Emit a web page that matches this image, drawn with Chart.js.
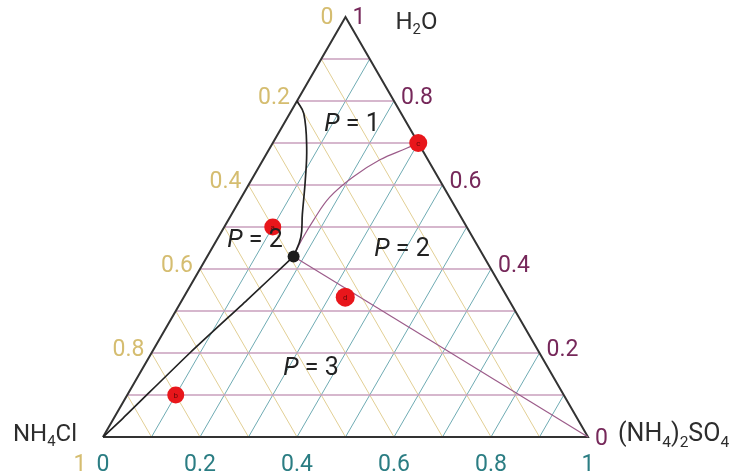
<!DOCTYPE html>
<html>
<head>
<meta charset="utf-8">
<script src="https://cdn.jsdelivr.net/npm/chart.js@4/dist/chart.umd.min.js"></script>
<style>
  html, body { margin: 0; padding: 0; background: #ffffff; }
  #wrap { width: 745px; height: 473px; }
</style>
</head>
<body>
<div id="wrap"><canvas id="ternary" width="745" height="473"></canvas></div>
<script>
// Ternary phase diagram NH4Cl – (NH4)2SO4 – H2O.
// Compositions are mass fractions: water = H2O, sulfate = (NH4)2SO4,
// chloride (NH4Cl) is the remainder 1 - water - sulfate.

const gridSteps = [0.1, 0.2, 0.3, 0.4, 0.5, 0.6, 0.7, 0.8, 0.9];
const tickValues = [0, 0.2, 0.4, 0.6, 0.8, 1];
const tickLabels = ['0', '0.2', '0.4', '0.6', '0.8', '1'];

// NH4Cl saturation curve (liquidus) ending at the eutonic point
const nh4clCurveWater   = [0.80, 0.77, 0.69, 0.61, 0.53, 0.476, 0.43];
const nh4clCurveSulfate = [0.00, 0.029, 0.075, 0.112, 0.146, 0.170, 0.178];

// Tie line from the eutonic point to pure NH4Cl
const nh4clTieWater   = [0.43, 0.326, 0.20, 0.045, 0.0];
const nh4clTieSulfate = [0.178, 0.134, 0.079, 0.019, 0.0];

// (NH4)2SO4 saturation curve from the eutonic point to point c
const sulfCurveWater   = [0.43, 0.469, 0.517, 0.571, 0.619, 0.66, 0.688, 0.70];
const sulfCurveSulfate = [0.178, 0.175, 0.176, 0.182, 0.206, 0.241, 0.283, 0.30];

// Tie line from the eutonic point to pure (NH4)2SO4
const sulfTieWater   = [0.43, 0.0];
const sulfTieSulfate = [0.178, 1.0];

// Eutonic point
const eutonicWater = [0.43];
const eutonicSulfate = [0.178];

// Marked compositions
const markNames   = ['a', 'b', 'c', 'd'];
const markWater   = [0.50, 0.10, 0.70, 0.333];
const markSulfate = [0.10, 0.10, 0.30, 0.333];

// Phase-count labels
const regionTexts   = ['P = 1', 'P = 2', 'P = 2', 'P = 3'];
const regionWater   = [0.743, 0.467, 0.445, 0.162];
const regionSulfate = [0.142, 0.080, 0.394, 0.348];

const H = Math.sqrt(3) / 2;
function toXY(water, sulfate) {
  return { x: sulfate + water / 2, y: water * H };
}
function series(waters, sulfates) {
  return waters.map((w, i) => toXY(w, sulfates[i]));
}

const COL = {
  edge: '#333333',
  gridWater: '#c99fbd',
  gridSulfate: '#6fabb3',
  gridChloride: '#e2cf94',
  labWater: '#76285a',
  labSulfate: '#2b7d83',
  labChloride: '#d5bd70',
  phase: '#222222',
  tie: '#9c5c8a',
  mark: '#e8161b',
  vertex: '#2d2d2d'
};

function lineSet(data, color, width, order, tension) {
  return {
    data, showLine: true, borderColor: color, borderWidth: width,
    pointRadius: 0, pointHoverRadius: 0, fill: false, clip: false,
    tension: tension || 0, order
  };
}

const datasets = [];

// grid lines
gridSteps.forEach(v => {
  datasets.push(lineSet([toXY(v, 0), toXY(v, 1 - v)], COL.gridWater, 1.4, 5));
  datasets.push(lineSet([toXY(0, v), toXY(1 - v, v)], COL.gridSulfate, 1, 6));
  datasets.push(lineSet([toXY(0, 1 - v), toXY(1 - v, 0)], COL.gridChloride, 1, 7));
});

// triangle edges
datasets.push(lineSet([toXY(0, 0), toXY(0, 1), toXY(1, 0), toXY(0, 0)], COL.edge, 2, 4));

// phase boundaries
datasets.push(lineSet(series(sulfTieWater, sulfTieSulfate), COL.tie, 1.2, 3));
datasets.push(lineSet(series(sulfCurveWater, sulfCurveSulfate), COL.tie, 1.2, 3, 0.4));
datasets.push(lineSet(series(nh4clCurveWater, nh4clCurveSulfate), COL.phase, 1.7, 2, 0.4));
datasets.push(lineSet(series(nh4clTieWater, nh4clTieSulfate), COL.phase, 1.7, 2, 0.2));

// eutonic point
datasets.push({
  data: series(eutonicWater, eutonicSulfate), showLine: false,
  pointRadius: 6, pointBackgroundColor: '#1c1c1c', pointBorderColor: '#1c1c1c',
  pointBorderWidth: 0, clip: false, order: 1
});

// marked points
const markSet = {
  data: series(markWater, markSulfate), showLine: false,
  pointRadius: [8.5, 8.5, 9, 9.5], pointBackgroundColor: COL.mark, pointBorderColor: COL.mark,
  pointBorderWidth: 0, clip: false, order: 0
};
datasets.push(markSet);
const markIndex = datasets.length - 1;

function drawRich(ctx, parts, x, y, size, color, align) {
  const sub = size * 0.62;
  let total = 0;
  parts.forEach(p => {
    ctx.font = (p.sub ? sub : size) + 'px Roboto';
    p.w = ctx.measureText(p.t).width;
    total += p.w;
  });
  let cx = align === 'right' ? x - total : align === 'center' ? x - total / 2 : x;
  const base = y + size * 0.36;
  ctx.fillStyle = color;
  ctx.textAlign = 'left';
  ctx.textBaseline = 'alphabetic';
  parts.forEach(p => {
    ctx.font = (p.sub ? sub : size) + 'px Roboto';
    ctx.fillText(p.t, cx, p.sub ? base + size * 0.24 : base);
    cx += p.w;
  });
}

const annotate = {
  id: 'annotate',
  afterDatasetsDraw(chart) {
    const ctx = chart.ctx;
    const xs = chart.scales.x, ys = chart.scales.y;
    const px = (w, s) => { const p = toXY(w, s); return [xs.getPixelForValue(p.x), ys.getPixelForValue(p.y)]; };
    ctx.save();

    // letters inside marked points
    const meta = chart.getDatasetMeta(markIndex);
    ctx.font = '8px Roboto';
    ctx.fillStyle = '#6a0808';
    ctx.textAlign = 'center';
    ctx.textBaseline = 'middle';
    meta.data.forEach((el, i) => ctx.fillText(markNames[i], el.x, el.y + 0.5));

    // tick labels
    ctx.font = '23px Roboto';
    ctx.textBaseline = 'middle';
    tickValues.forEach((v, i) => {
      // H2O along the right edge
      let [x, y] = px(v, 1 - v);
      ctx.fillStyle = COL.labWater;
      ctx.textAlign = 'left';
      const dy = v === 1 ? 1 : v === 0 ? 2 : -3;
      ctx.fillText(tickLabels[i], x + 7, y + dy);

      // (NH4)2SO4 along the bottom edge
      [x, y] = px(0, v);
      ctx.fillStyle = COL.labSulfate;
      ctx.textAlign = 'center';
      ctx.fillText(tickLabels[i], x, y + 28);

      // NH4Cl along the left edge
      [x, y] = px(1 - v, 0);
      ctx.fillStyle = COL.labChloride;
      if (v === 1) {
        ctx.textAlign = 'center';
        ctx.fillText(tickLabels[i], x - 23, y + 28);
      } else {
        ctx.textAlign = 'right';
        ctx.fillText(tickLabels[i], x - (v === 0 ? 12 : 7), y + (v === 0 ? 1 : -3));
      }
    });

    // region labels
    regionTexts.forEach((t, i) => {
      const [x, y] = px(regionWater[i], regionSulfate[i]);
      const pLetter = t.slice(0, 1), rest = t.slice(1);
      ctx.textBaseline = 'middle';
      ctx.textAlign = 'left';
      ctx.font = 'italic 25px Roboto';
      const w1 = ctx.measureText(pLetter).width;
      ctx.font = '25px Roboto';
      const w2 = ctx.measureText(rest).width;
      const x0 = x - (w1 + w2) / 2;
      ctx.fillStyle = '#222222';
      ctx.font = 'italic 25px Roboto';
      ctx.fillText(pLetter, x0, y);
      ctx.font = '25px Roboto';
      ctx.fillText(rest, x0 + w1, y);
    });

    // vertex names
    let [x, y] = px(1, 0);
    drawRich(ctx, [{ t: 'H' }, { t: '2', sub: true }, { t: 'O' }], x + 50, y + 3, 24, COL.vertex, 'left');
    [x, y] = px(0, 0);
    drawRich(ctx, [{ t: 'NH' }, { t: '4', sub: true }, { t: 'Cl' }], x - 90, y - 5, 24, COL.vertex, 'left');
    [x, y] = px(0, 1);
    drawRich(ctx, [{ t: '(NH' }, { t: '4', sub: true }, { t: ')' }, { t: '2', sub: true }, { t: 'SO' }, { t: '4', sub: true }],
      x + 30, y - 5, 25, COL.vertex, 'left');

    ctx.restore();
  }
};

new Chart(document.getElementById('ternary'), {
  type: 'scatter',
  data: { datasets },
  options: {
    responsive: false,
    devicePixelRatio: 1,
    animation: false,
    layout: { padding: { left: 103, right: 157, top: 17, bottom: 36 } },
    scales: {
      x: { type: 'linear', min: 0, max: 1, display: false },
      y: { type: 'linear', min: 0, max: H, display: false }
    },
    plugins: {
      legend: { display: false },
      tooltip: { enabled: false }
    },
    events: []
  },
  plugins: [annotate]
});
</script>
</body>
</html>
